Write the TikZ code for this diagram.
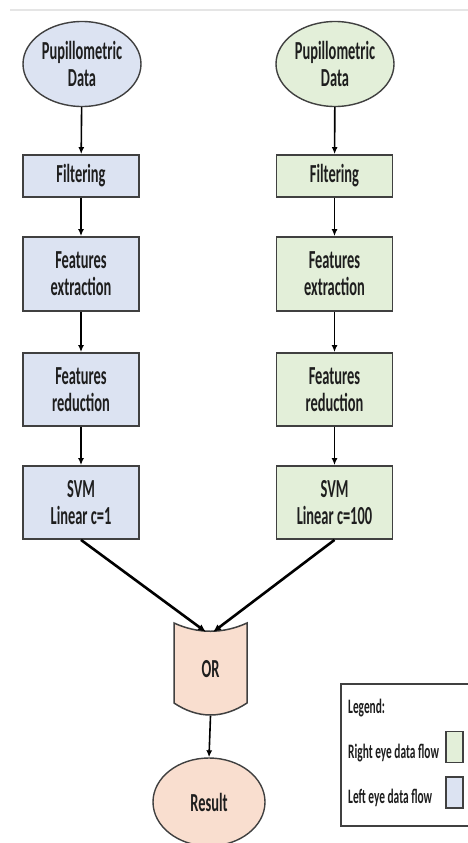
\documentclass[tikz,border=0pt]{standalone}
\usepackage{fontspec}
\setmainfont[FakeStretch=0.555]{Carlito}
\usetikzlibrary{arrows.meta,shapes.geometric}
\definecolor{bluef}{HTML}{DCE3F2}
\definecolor{greenf}{HTML}{E3EFD9}
\definecolor{peachf}{HTML}{F9DECF}
\definecolor{bord}{HTML}{404040}
\definecolor{txt}{HTML}{1E1E1E}
\tikzset{
  base/.style={draw=bord, line width=1.8pt, text=txt, align=center, inner sep=0pt,
    font=\fontsize{26}{27}\selectfont\bfseries},
  ell/.style={base, ellipse, line width=1.4pt, minimum width=118pt, minimum height=85pt},
  boxn/.style={base, rectangle, minimum width=116pt},
  flow/.style={line width=1.6pt, black, -{Latex[length=7pt,width=6pt]}},
  bigflow/.style={line width=2.6pt, black, -{Latex[length=8pt,width=7pt]}},
  leg/.style={text=txt, font=\fontsize{20.5}{22}\selectfont\bfseries, anchor=base west, inner sep=0pt},
  swatch/.style={draw=bord, line width=1.2pt, minimum width=17pt, minimum height=31pt, inner sep=0pt}
}
\begin{document}
\begin{tikzpicture}[x=1pt,y=-1pt]
\useasboundingbox[fill=white] (0,0) rectangle (468,843);
\draw[black!10, line width=1.5pt] (10,10) -- (468,10);

% left column
\node[ell, fill=bluef] (l1) at (82,64) {Pupillometric\\Data};
\node[boxn, fill=bluef, minimum height=42pt] (l2) at (81,176) {Filtering};
\node[boxn, fill=bluef, minimum height=74pt] (l3) at (81,274) {Features\\extraction};
\node[boxn, fill=bluef, minimum height=73pt] (l4) at (81,389.5) {Features\\reduction};
\node[boxn, fill=bluef, minimum height=73pt] (l5) at (81,502.5) {SVM\\Linear c=1};

% right column
\node[ell, fill=greenf] (r1) at (335,64) {Pupillometric\\Data};
\node[boxn, fill=greenf, minimum height=42pt] (r2) at (334.5,176) {Filtering};
\node[boxn, fill=greenf, minimum height=74pt] (r3) at (334.5,274) {Features\\extraction};
\node[boxn, fill=greenf, minimum height=73pt] (r4) at (334.5,389.5) {Features\\reduction};
\node[boxn, fill=greenf, minimum height=73pt] (r5) at (334.5,502.5) {SVM\\Linear c=100};

% OR shape
\draw[draw=bord, line width=1.5pt, fill=peachf]
  (174,623) .. controls (198,634) and (223,634) .. (247,623) -- (247,703)
  .. controls (223,719) and (198,719) .. (174,703) -- cycle;
\node[base, draw=none, minimum width=73pt, minimum height=92pt] (or) at (210.5,669) {OR};
\coordinate (orl) at (206,632);
\coordinate (orr) at (213,632);

% Result
\node[ell, fill=peachf, minimum width=112pt, minimum height=88pt] (res) at (209,802) {Result};

% arrows
\draw[flow] (l1) -- (l2);
\draw[flow] (l2) -- (l3);
\draw[flow] (l3) -- (l4);
\draw[flow] (l4) -- (l5);
\draw[flow] (r1) -- (r2);
\draw[flow] (r2) -- (r3);
\draw[flow] (r3) -- (r4);
\draw[flow] (r4) -- (r5);
\draw[bigflow] (l5.south) -- (orl);
\draw[bigflow] (r5.south) -- (orr);
\draw[flow] (or.south) -- (res.north);

% legend
\node[draw=bord, line width=1.6pt, fill=white, minimum width=140pt, minimum height=142pt, inner sep=0pt, anchor=north west] (legbox) at (340,683) {};
\node[leg] (legt) at (348,713) {Legend:};
\node[leg] (legr) at (348,758) {Right eye data flow};
\node[leg] (legl) at (348,803) {Left eye data flow};
\node[swatch, fill=greenf] (swg) at (454.5,747) {};
\node[swatch, fill=bluef] (swb) at (454.5,792.5) {};
\end{tikzpicture}
\end{document}
